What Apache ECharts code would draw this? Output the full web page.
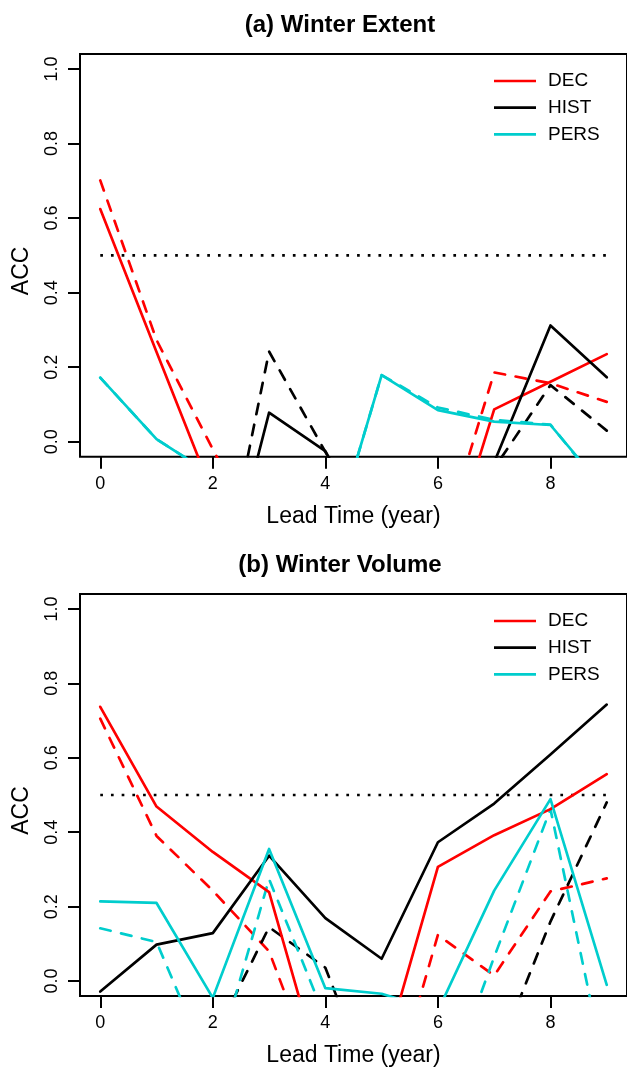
<!DOCTYPE html>
<html><head><meta charset="utf-8">
<script src="https://cdn.jsdelivr.net/npm/echarts@6/dist/echarts.min.js"></script>
<style>html,body{margin:0;padding:0;background:#fff}#c{width:627px;height:1068px}</style>
</head><body><div id="c"></div>
<script>
// ---------- data ----------
const leadTime = [0, 1, 2, 3, 4, 5, 6, 7, 8, 9];
const xTicks = [0, 2, 4, 6, 8];
const yTicks = [0, 0.2, 0.4, 0.6, 0.8, 1.0];
const thresholdSpan = [0, 9];
const threshold = 0.5;
const legendNames = ['DEC', 'HIST', 'PERS'];
const panelTitles = ['(a) Winter Extent', '(b) Winter Volume'];

// (a) Winter Extent
const extDecSolid  = [0.624, 0.241, -0.14, -0.25, -0.20, -0.35, -0.40, 0.087, 0.161, 0.235];
const extDecDash   = [0.701, 0.273, -0.02, -0.30, -0.20, -0.25, -0.31, 0.186, 0.157, 0.107];
const extHistSolid = [-0.20, -0.30, -0.51, 0.078, -0.025, -0.30, -0.20, -0.055, 0.312, 0.173];
const extHistDash  = [-0.25, -0.15, -0.50, 0.242, -0.027, -0.30, -0.20, -0.071, 0.152, 0.030];
const extPersSolid = [0.172, 0.007, -0.09, -0.20, -0.33, 0.179, 0.085, 0.054, 0.045, -0.135];
const extPersDash  = [0.172, 0.007, -0.09, -0.20, -0.33, 0.179, 0.092, 0.059, 0.046, -0.140];

// (b) Winter Volume
const volDecSolid  = [0.737, 0.469, 0.347, 0.239, -0.29, -0.22, 0.307, 0.392, 0.462, 0.556];
const volDecDash   = [0.705, 0.390, 0.243, 0.080, -0.32, -0.40, 0.124, 0.015, 0.241, 0.276];
const volHistSolid = [-0.028, 0.098, 0.129, 0.337, 0.169, 0.060, 0.373, 0.477, 0.609, 0.743];
const volHistDash  = [-0.30, -0.20, -0.16, 0.145, 0.036, -0.35, -0.30, -0.22, 0.160, 0.480];
const volPersSolid = [0.214, 0.210, -0.045, 0.355, -0.019, -0.034, -0.08, 0.243, 0.489, -0.010];
const volPersDash  = [0.142, 0.105, -0.25, 0.274, -0.10, -0.30, -0.35, 0.065, 0.462, -0.26];

// ---------- styling ----------
const FONT = '"Liberation Sans", Arial, Helvetica, sans-serif';
const COLORS = { DEC: '#ff0000', HIST: '#000000', PERS: '#00cdcd' };
const LW = 2.67;
const DASH = [10.7, 10.7];
const DOT = [2.7, 8];

const panels = [
  { top: 54, solid: [extDecSolid, extHistSolid, extPersSolid], dash: [extDecDash, extHistDash, extPersDash] },
  { top: 594, solid: [volDecSolid, volHistSolid, volPersSolid], dash: [volDecDash, volHistDash, volPersDash] }
];

const grid = [], xAxis = [], yAxis = [], series = [], legend = [], graphic = [];
panels.forEach((p, k) => {
  grid.push({ left: 80, top: p.top, width: 549.5, height: 402.7, show: true,
              borderColor: '#000', borderWidth: 2, backgroundColor: 'transparent' });
  xAxis.push({
    type: 'value', gridIndex: k, min: -0.36, max: 9.36,
    axisLine: { show: false, onZero: false }, splitLine: { show: false },
    axisTick: { show: true, customValues: xTicks, length: 12, inside: false, lineStyle: { color: '#000', width: 2 } },
    axisLabel: { show: true, customValues: xTicks, margin: 18, fontSize: 18, color: '#000', fontFamily: FONT },
    name: 'Lead Time (year)', nameLocation: 'middle', nameGap: 48,
    nameTextStyle: { fontSize: 23, color: '#000', fontFamily: FONT }
  });
  yAxis.push({
    type: 'value', gridIndex: k, min: -0.04, max: 1.04,
    axisLine: { show: false, onZero: false }, splitLine: { show: false },
    axisTick: { show: true, customValues: yTicks, length: 12, inside: false, lineStyle: { color: '#000', width: 2 } },
    axisLabel: { show: true, customValues: yTicks, rotate: 90, margin: 19, fontSize: 18, color: '#000',
                 fontFamily: FONT, formatter: v => Number(v).toFixed(1) },
    name: 'ACC', nameLocation: 'middle', nameGap: 46.5,
    nameTextStyle: { fontSize: 23, color: '#000', fontFamily: FONT, padding: [0, 31, 0, 0] }
  });
  // threshold dotted line
  series.push({
    type: 'line', xAxisIndex: k, yAxisIndex: k, symbol: 'none', silent: true,
    data: thresholdSpan.map(x => [x, threshold]),
    itemStyle: { color: '#000' },
    lineStyle: { color: '#000', width: LW, type: DOT, cap: 'butt' }, z: 1
  });
  legendNames.forEach((nm, i) => {
    series.push({
      name: nm + ' hindcast', type: 'line', xAxisIndex: k, yAxisIndex: k, symbol: 'none',
      data: leadTime.map((x, j) => [x, p.dash[i][j]]),
      itemStyle: { color: COLORS[nm] },
      lineStyle: { color: COLORS[nm], width: LW, type: DASH, cap: 'round', join: 'round' }, z: 2
    });
  });
  legendNames.forEach((nm, i) => {
    series.push({
      name: nm, type: 'line', xAxisIndex: k, yAxisIndex: k, symbol: 'none',
      data: leadTime.map((x, j) => [x, p.solid[i][j]]),
      itemStyle: { color: COLORS[nm] },
      lineStyle: { color: COLORS[nm], width: LW, type: 'solid', cap: 'round', join: 'round' }, z: 3
    });
  });
  legend.push({
    data: legendNames, orient: 'vertical', left: 494, top: p.top + 17.5, padding: 0,
    icon: 'rect', itemWidth: 42, itemHeight: 2.7, itemGap: 7.7, selectedMode: false,
    textStyle: { fontSize: 19, color: '#000', fontFamily: FONT, lineHeight: 19, padding: [0, 0, 0, 7] }
  });
  graphic.push({
    type: 'text', x: 340, y: p.top - 29,
    style: { text: panelTitles[k], fontSize: 24, fontWeight: 'bold', fontFamily: FONT,
             align: 'center', verticalAlign: 'middle', fill: '#000' }
  });
});

const chart = echarts.init(document.getElementById('c'), null, { renderer: 'canvas' });
chart.setOption({
  animation: false,
  backgroundColor: '#fff',
  textStyle: { fontFamily: FONT },
  grid, xAxis, yAxis, series, legend, graphic
});
</script>
</body></html>
